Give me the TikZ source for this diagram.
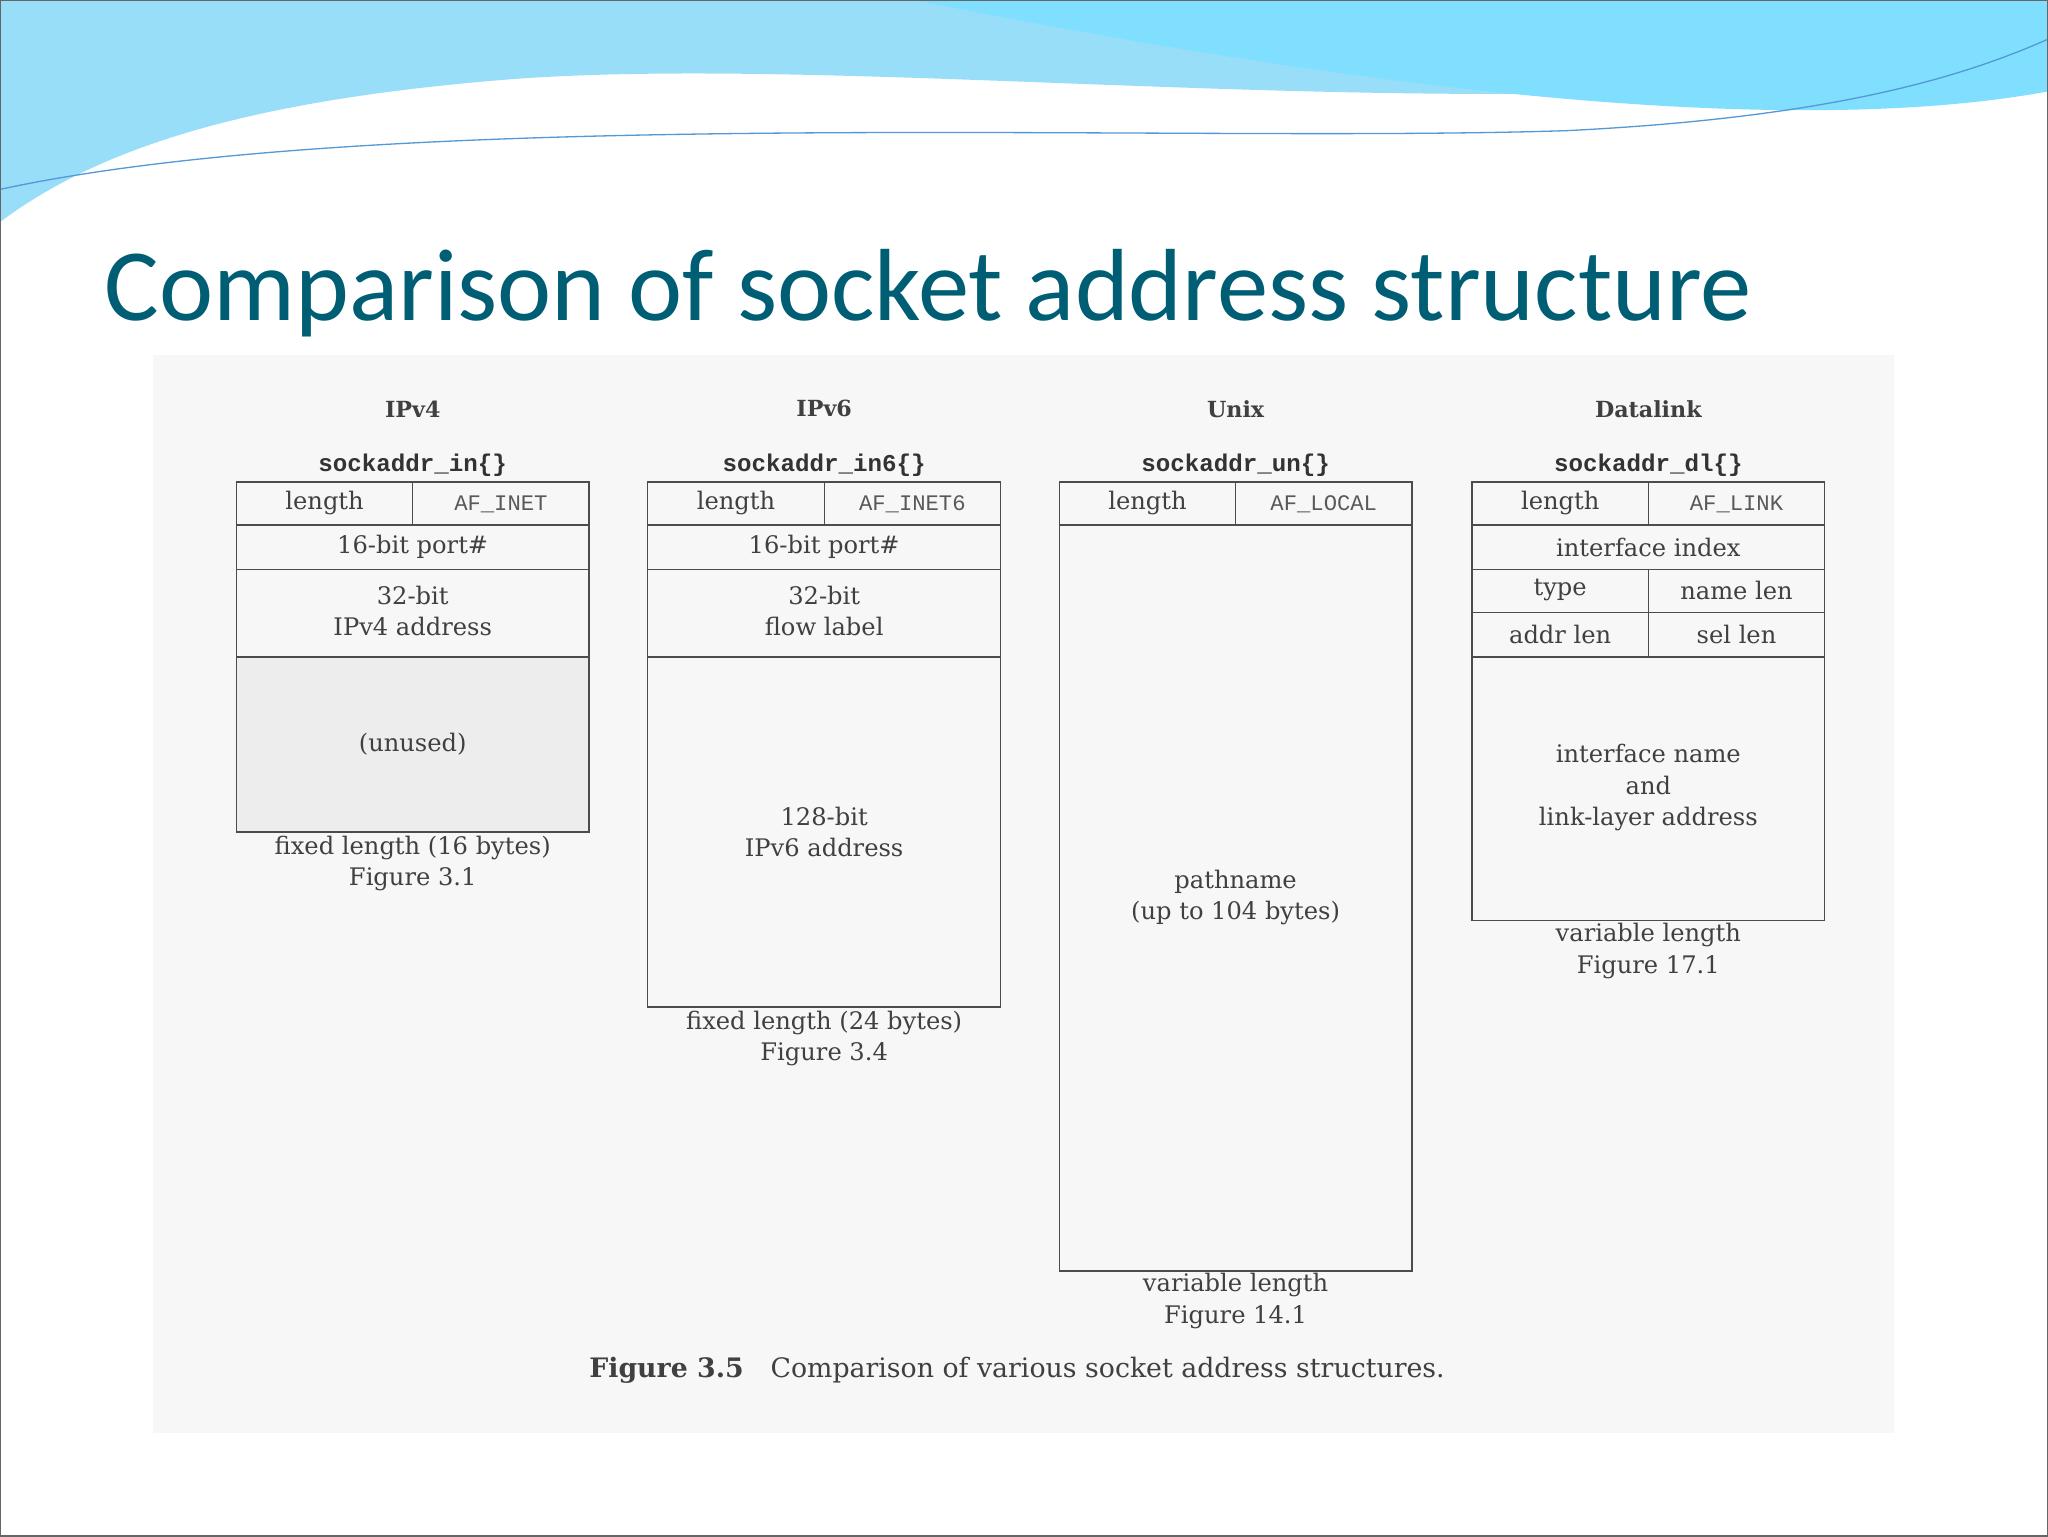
\documentclass[tikz,border=0pt]{standalone}
\usepackage{fontspec}
\newfontfamily\titlefont{Carlito}
\newfontfamily\monob{Liberation Mono}
\newfontfamily\bodyserif{DejaVu Serif}
\begin{document}
\begin{tikzpicture}[x=1pt,y=-1pt,
  cell/.style={draw=black!70,line width=1pt},
  txt/.style={text=black!75,font=\bodyserif\fontsize{18.5}{24}\selectfont,align=center,inner sep=0pt},
  mono/.style={text=black!65,font=\monob\fontsize{17}{20}\selectfont,inner sep=0pt},
  hdr/.style={text=black!75,font=\bodyserif\bfseries\fontsize{17}{22}\selectfont,inner sep=0pt},
  sname/.style={text=black!80,font=\monob\bfseries\fontsize{18.5}{22}\selectfont,inner sep=0pt}]
\useasboundingbox (0,0) rectangle (1568,1176);
\fill[white] (0,0) rectangle (1568,1176);
% header waves
\fill[cyan!40!white] (0,0) -- (1568,0) -- (1568,40) .. controls (1200,110) and (700,40) .. (400,60) .. controls (200,75) and (80,110) .. (0,170) -- cycle;
\fill[blue!25!cyan!50!white] (700,0) -- (1568,0) -- (1568,70) .. controls (1350,110) and (1000,60) .. (700,0) -- cycle;
\draw[cyan!60!blue!70,line width=1pt] (0,145) .. controls (300,80) and (900,110) .. (1200,100) .. controls (1400,90) and (1500,60) .. (1568,30);
\node[anchor=base west,inner sep=0pt,text={rgb,255:red,0;green,94;blue,116},font=\titlefont\fontsize{78.5}{84}\selectfont] (title) at (80,245) {Comparison of socket address structure};
\fill[black!3] (117,272) rectangle (1450,1097);
\fill[black!7] (181,503) rectangle (451,637);
% IPv4
\node[hdr] (h1) at (316,313) {IPv4};
\node[sname] (s1) at (316,356) {sockaddr\_in\{\}};
\draw[cell] (181,369) rectangle (451,637);
\draw[cell] (181,402) -- (451,402) (181,436) -- (451,436) (181,503) -- (451,503) (316,369) -- (316,402);
\node[txt] (a1) at (248.5,385) {length};
\node[mono] (b1) at (383.5,386) {AF\_INET};
\node[txt] (c1) at (316,419) {16-bit port\#};
\node[txt] (d1) at (316,468) {32-bit\\IPv4 address};
\node[txt] (e1) at (316,570) {(unused)};
\node[txt] (f1) at (316,661) {fixed length (16 bytes)\\Figure 3.1};
% IPv6
\node[hdr] (h2) at (631,313) {IPv6};
\node[sname] (s2) at (631,356) {sockaddr\_in6\{\}};
\draw[cell] (496,369) rectangle (766,771);
\draw[cell] (496,402) -- (766,402) (496,436) -- (766,436) (496,503) -- (766,503) (631,369) -- (631,402);
\node[txt] (a2) at (563.5,385) {length};
\node[mono] (b2) at (698.5,386) {AF\_INET6};
\node[txt] (c2) at (631,419) {16-bit port\#};
\node[txt] (d2) at (631,468) {32-bit\\flow label};
\node[txt] (e2) at (631,637) {128-bit\\IPv6 address};
\node[txt] (f2) at (631,795) {fixed length (24 bytes)\\Figure 3.4};
% Unix
\node[hdr] (h3) at (946,313) {Unix};
\node[sname] (s3) at (946,356) {sockaddr\_un\{\}};
\draw[cell] (811,369) rectangle (1081,973);
\draw[cell] (811,402) -- (1081,402) (946,369) -- (946,402);
\node[txt] (a3) at (878.5,385) {length};
\node[mono] (b3) at (1013.5,386) {AF\_LOCAL};
\node[txt] (e3) at (946,687) {pathname\\(up to 104 bytes)};
\node[txt] (f3) at (946,996) {variable length\\Figure 14.1};
% Datalink
\node[hdr] (h4) at (1262,313) {Datalink};
\node[sname] (s4) at (1262,356) {sockaddr\_dl\{\}};
\draw[cell] (1127,369) rectangle (1397,705);
\draw[cell] (1127,402) -- (1397,402) (1127,436) -- (1397,436) (1127,469) -- (1397,469) (1127,503) -- (1397,503) (1262,369) -- (1262,402) (1262,436) -- (1262,503);
\node[txt] (a4) at (1194.5,385) {length};
\node[mono] (b4) at (1329.5,386) {AF\_LINK};
\node[txt] (c4) at (1262,419) {interface index};
\node[txt] (g4) at (1194.5,452) {type};
\node[txt] (i4) at (1329.5,452) {name len};
\node[txt] (j4) at (1194.5,486) {addr len};
\node[txt] (k4) at (1329.5,486) {sel len};
\node[txt] (e4) at (1262,603) {interface name\\and\\link-layer address};
\node[txt] (f4) at (1262,728) {variable length\\Figure 17.1};
% caption
\node[txt,anchor=west,font=\bodyserif\fontsize{20.5}{24}\selectfont] (cap) at (451,1049) {\textbf{Figure 3.5}\quad Comparison of various socket address structures.};
\draw[black!60,line width=1pt] (0,0) rectangle (1568,1176);
\end{tikzpicture}
\end{document}
